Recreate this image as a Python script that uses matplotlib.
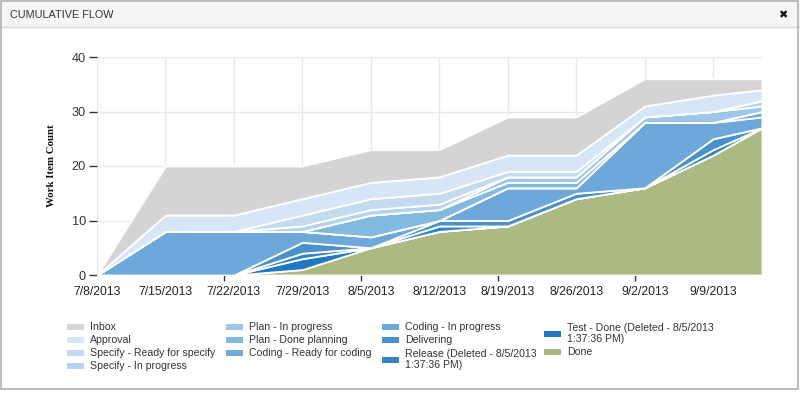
import matplotlib
matplotlib.use("Agg")
import matplotlib.pyplot as plt
import matplotlib.dates as mdates
from matplotlib.patches import Rectangle
import numpy as np
import pandas as pd

# ---------------- data ----------------
dates = ['2013-07-08', '2013-07-15', '2013-07-22', '2013-07-29', '2013-08-05',
         '2013-08-12', '2013-08-19', '2013-08-26', '2013-09-02', '2013-09-09',
         '2013-09-14']

# stack order: bottom -> top
done          = [0, 0, 0, 1, 5, 8, 9, 14, 16, 22, 27]
test_done     = [0, 0, 0, 2, 0, 0, 0, 0, 0, 0, 0]
release       = [0, 0, 0, 1, 0, 1, 0, 0, 0, 1, 0]
delivering    = [0, 0, 0, 2, 0, 1, 1, 1, 0, 2, 0]
coding_ip     = [0, 8, 8, 2, 2, 0, 6, 1, 12, 3, 2]
coding_ready  = [0, 0, 0, 0, 0, 0, 0, 0, 0, 0, 1]
plan_done     = [0, 0, 0, 0, 4, 2, 1, 1, 0, 0, 0]
plan_ip       = [0, 0, 0, 0, 0, 0, 1, 1, 1, 2, 1]
specify_ip    = [0, 0, 0, 1, 1, 1, 0, 0, 0, 0, 1]
specify_ready = [0, 0, 0, 2, 2, 2, 1, 1, 0, 0, 0]
approval      = [0, 3, 3, 3, 3, 3, 3, 3, 2, 3, 2]
inbox         = [0, 9, 9, 6, 6, 5, 7, 7, 5, 3, 2]

# legend order (top of stack first)
names = ['Inbox', 'Approval', 'Specify - Ready for specify', 'Specify - In progress',
         'Plan - In progress', 'Plan - Done planning', 'Coding - Ready for coding',
         'Coding - In progress', 'Delivering', 'Release (Deleted - 8/5/2013\n1:37:36 PM)',
         'Test - Done (Deleted - 8/5/2013\n1:37:36 PM)', 'Done']
series = [inbox, approval, specify_ready, specify_ip, plan_ip, plan_done, coding_ready,
          coding_ip, delivering, release, test_done, done]
colors = ['#d4d4d4', '#d6e6f6', '#c4dbef', '#b3d3ee', '#9dc6e8', '#81b9df', '#70aadc',
          '#6ea8da', '#4a90cd', '#3385c6', '#1f78c1', '#abba83']

week_ticks = ['2013-07-08', '2013-07-15', '2013-07-22', '2013-07-29', '2013-08-05',
              '2013-08-12', '2013-08-19', '2013-08-26', '2013-09-02', '2013-09-09']
minor_ticks = ['2013-07-21', '2013-08-04', '2013-08-18', '2013-09-01']
y_ticks = [0, 10, 20, 30, 40]

# ---------------- figure ----------------
W, H = 800, 393
fig = plt.figure(figsize=(W / 100, H / 100), dpi=100)
fig.patch.set_facecolor('white')

def fx(px):
    return px / W

def fy(py):
    return 1 - py / H

# dialog chrome
fig.patches.append(Rectangle((0, fy(27)), 1, 1 - fy(27), transform=fig.transFigure,
                             facecolor='#f5f5f5', edgecolor='none', zorder=0))
fig.lines.append(plt.Line2D([0, 1], [fy(27), fy(27)], transform=fig.transFigure,
                            color='#d8d8d8', lw=1))
fig.patches.append(Rectangle((fx(1), fy(389)), fx(797), fy(1) - fy(389),
                             transform=fig.transFigure, facecolor='none',
                             edgecolor='#b0b0b0', lw=1.2, zorder=5))
fig.text(fx(10), fy(15), 'CUMULATIVE FLOW', fontsize=7.8, color='#333333',
         family='Liberation Sans', va='center', ha='left')
fig.text(fx(783), fy(15), '\u2716', fontsize=8, color='#111111',
         family='DejaVu Sans', va='center', ha='center')

# axes
ax = fig.add_axes([fx(97), fy(275), fx(762) - fx(97), fy(57) - fy(275)])
x = pd.to_datetime(dates)
stack = series[::-1]
stack_colors = colors[::-1]
ax.stackplot(x, *stack, colors=stack_colors, edgecolor='white', linewidth=1.3,
             zorder=2)

ax.set_xlim(x[0], x[-1])
ax.set_ylim(0, 40)
ax.set_yticks(y_ticks)
ax.set_yticklabels([str(v) for v in y_ticks])
ax.set_xticks(pd.to_datetime(week_ticks))
ax.set_xticklabels([f"{d.month}/{d.day}/{d.year}" for d in pd.to_datetime(week_ticks)])
ax.set_xticks(pd.to_datetime(minor_ticks), minor=True)

for s in ax.spines.values():
    s.set_visible(False)
ax.grid(True, color='#e8e8e8', lw=1, zorder=0)
ax.set_axisbelow(True)
ax.tick_params(axis='x', which='major', length=0, pad=8, labelsize=8.8,
               labelcolor='#222222')
ax.tick_params(axis='x', which='minor', length=4, width=1, color='#333333',
               direction='out')
ax.tick_params(axis='y', length=6, width=1, color='#333333', pad=2, labelsize=9.2,
               labelcolor='#333333')
for lab in ax.get_xticklabels() + ax.get_yticklabels():
    lab.set_family('Liberation Sans')

fig.text(fx(51), fy(166), 'Work Item Count', rotation=90, family='Liberation Serif',
         weight='bold', fontsize=7.8, color='#111111', va='center', ha='center')

# manual legend (column x, centre y in px)
legend_pos = [(67, 327), (67, 340), (67, 353), (67, 366),
              (226, 327), (226, 340), (226, 353),
              (382, 327), (382, 340), (382, 359.5),
              (544, 333.5), (544, 352)]
for name, col, (px, py) in zip(names, colors, legend_pos):
    fig.patches.append(Rectangle((fx(px), fy(py + 3)), fx(17), fy(py - 3) - fy(py + 3),
                                 transform=fig.transFigure, facecolor=col,
                                 edgecolor='none'))
    fig.text(fx(px + 23), fy(py), name, fontsize=7.6, color='#333333',
             family='Liberation Sans', va='center', ha='left', linespacing=1.1)

fig.savefig('out.png', dpi=100, facecolor='white')
